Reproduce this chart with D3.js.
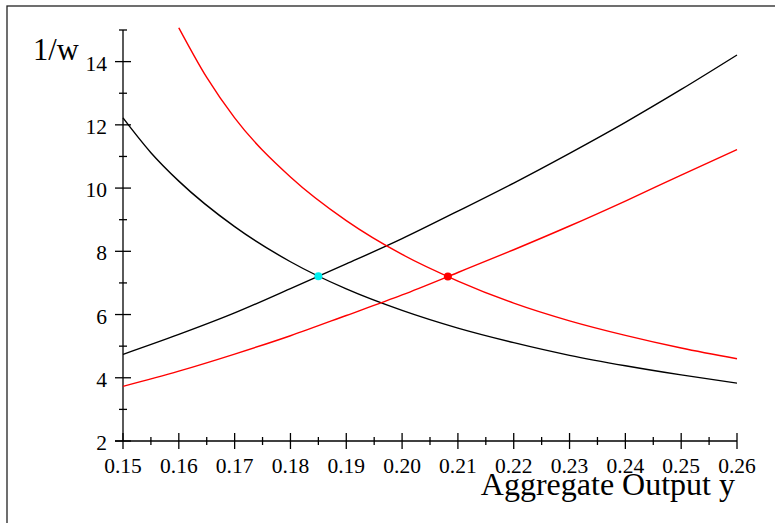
<!DOCTYPE html>
<html>
<head>
<meta charset="utf-8">
<script src="https://cdn.jsdelivr.net/npm/d3@7"></script>
<style>
  html, body { margin: 0; padding: 0; background: #fff; }
  svg { display: block; }
  text { font-family: "Liberation Serif", "DejaVu Serif", serif; fill: #000; }
</style>
</head>
<body>
<svg id="chart" width="775" height="523"></svg>
<script>
// Aggregate output (x) and the four 1/w curves
const outputGrid = [0.15, 0.16, 0.17, 0.18, 0.19, 0.20, 0.21, 0.22, 0.23, 0.24, 0.25, 0.26];
const blackRising  = [4.74, 5.37, 6.05, 6.82, 7.60, 8.40, 9.27, 10.16, 11.10, 12.08, 13.12, 14.21];
const blackFallingX = [0.15, 0.155, 0.16, 0.17, 0.18, 0.19, 0.20, 0.21, 0.22, 0.23, 0.24, 0.25, 0.26];
const blackFalling = [12.22, 11.12, 10.22, 8.78, 7.67, 6.81, 6.13, 5.57, 5.11, 4.71, 4.38, 4.09, 3.83];
const redRising    = [3.73, 4.21, 4.75, 5.33, 5.97, 6.62, 7.33, 8.05, 8.80, 9.59, 10.41, 11.22];
const redFallingX  = [0.16, 0.165, 0.17, 0.18, 0.19, 0.20, 0.21, 0.22, 0.23, 0.24, 0.25, 0.26];
const redFalling   = [15.07, 13.50, 12.22, 10.35, 8.97, 7.90, 7.06, 6.36, 5.80, 5.34, 4.94, 4.60];

// Equilibrium points
const eqBlack = [0.185, 7.21];
const eqRed   = [0.2082, 7.20];

// Axis ticks
const xMajor = [0.15, 0.16, 0.17, 0.18, 0.19, 0.20, 0.21, 0.22, 0.23, 0.24, 0.25, 0.26];
const xMinor = [0.155, 0.165, 0.175, 0.185, 0.195, 0.205, 0.215, 0.225, 0.235, 0.245, 0.255];
const yMajor = [2, 4, 6, 8, 10, 12, 14];
const yMinor = [3, 5, 7, 9, 11, 13, 15];

const svg = d3.select("#chart");

// outer frame
svg.append("rect")
  .attr("x", 7).attr("y", 6).attr("width", 900).attr("height", 700)
  .attr("fill", "none").attr("stroke", "#222").attr("stroke-width", 1.3);

const x = d3.scaleLinear().domain([0.15, 0.26]).range([123, 737]);
const y = d3.scaleLinear().domain([2, 15]).range([441, 30]);

const axisColor = "#000";
const g = svg.append("g");

// x axis line and ticks
g.append("line")
  .attr("x1", x(0.15) - 8).attr("x2", x(0.26))
  .attr("y1", y(2)).attr("y2", y(2))
  .attr("stroke", axisColor).attr("stroke-width", 1.3);
g.selectAll(".xmaj").data(xMajor).join("line")
  .attr("x1", d => x(d)).attr("x2", d => x(d))
  .attr("y1", y(2) - 8).attr("y2", y(2) + 8)
  .attr("stroke", axisColor).attr("stroke-width", 1.3);
g.selectAll(".xmin").data(xMinor).join("line")
  .attr("x1", d => x(d)).attr("x2", d => x(d))
  .attr("y1", y(2) - 4).attr("y2", y(2) + 4)
  .attr("stroke", axisColor).attr("stroke-width", 1.3);
g.selectAll(".xlab").data(xMajor).join("text")
  .attr("x", d => x(d)).attr("y", y(2) + 32)
  .attr("text-anchor", "middle").attr("font-size", 21.5)
  .text(d => d3.format(".2f")(d));

// y axis line and ticks
g.append("line")
  .attr("x1", x(0.15)).attr("x2", x(0.15))
  .attr("y1", y(15)).attr("y2", y(2))
  .attr("stroke", axisColor).attr("stroke-width", 1.3);
g.selectAll(".ymaj").data(yMajor).join("line")
  .attr("x1", x(0.15) - 8).attr("x2", x(0.15) + 8)
  .attr("y1", d => y(d)).attr("y2", d => y(d))
  .attr("stroke", axisColor).attr("stroke-width", 1.3);
g.selectAll(".ymin").data(yMinor).join("line")
  .attr("x1", x(0.15) - 4).attr("x2", x(0.15) + 4)
  .attr("y1", d => y(d)).attr("y2", d => y(d))
  .attr("stroke", axisColor).attr("stroke-width", 1.3);
g.selectAll(".ylab").data(yMajor).join("text")
  .attr("x", x(0.15) - 16).attr("y", d => y(d) + 9)
  .attr("text-anchor", "end").attr("font-size", 21.5)
  .text(d => d);

// axis titles
svg.append("text").attr("x", 33).attr("y", 59.5)
  .attr("font-size", 30.5).text("1/w");
svg.append("text").attr("x", 735).attr("y", 495)
  .attr("text-anchor", "end").attr("font-size", 32).text("Aggregate Output y");

// curves
const line = d3.line().x(d => x(d[0])).y(d => y(d[1])).curve(d3.curveMonotoneX);
const curves = [
  { xs: outputGrid,    ys: blackRising,  color: "#000" },
  { xs: blackFallingX, ys: blackFalling, color: "#000" },
  { xs: outputGrid,    ys: redRising,    color: "#ff0000" },
  { xs: redFallingX,   ys: redFalling,   color: "#ff0000" }
];
curves.forEach(c => {
  svg.append("path")
    .datum(c.xs.map((v, i) => [v, c.ys[i]]))
    .attr("d", line)
    .attr("fill", "none").attr("stroke", c.color).attr("stroke-width", 1.4);
});

// equilibrium markers
svg.append("circle").attr("cx", x(eqBlack[0])).attr("cy", y(eqBlack[1]))
  .attr("r", 4).attr("fill", "#00f0f0");
svg.append("circle").attr("cx", x(eqRed[0])).attr("cy", y(eqRed[1]))
  .attr("r", 4).attr("fill", "#ff0000");
</script>
</body>
</html>
